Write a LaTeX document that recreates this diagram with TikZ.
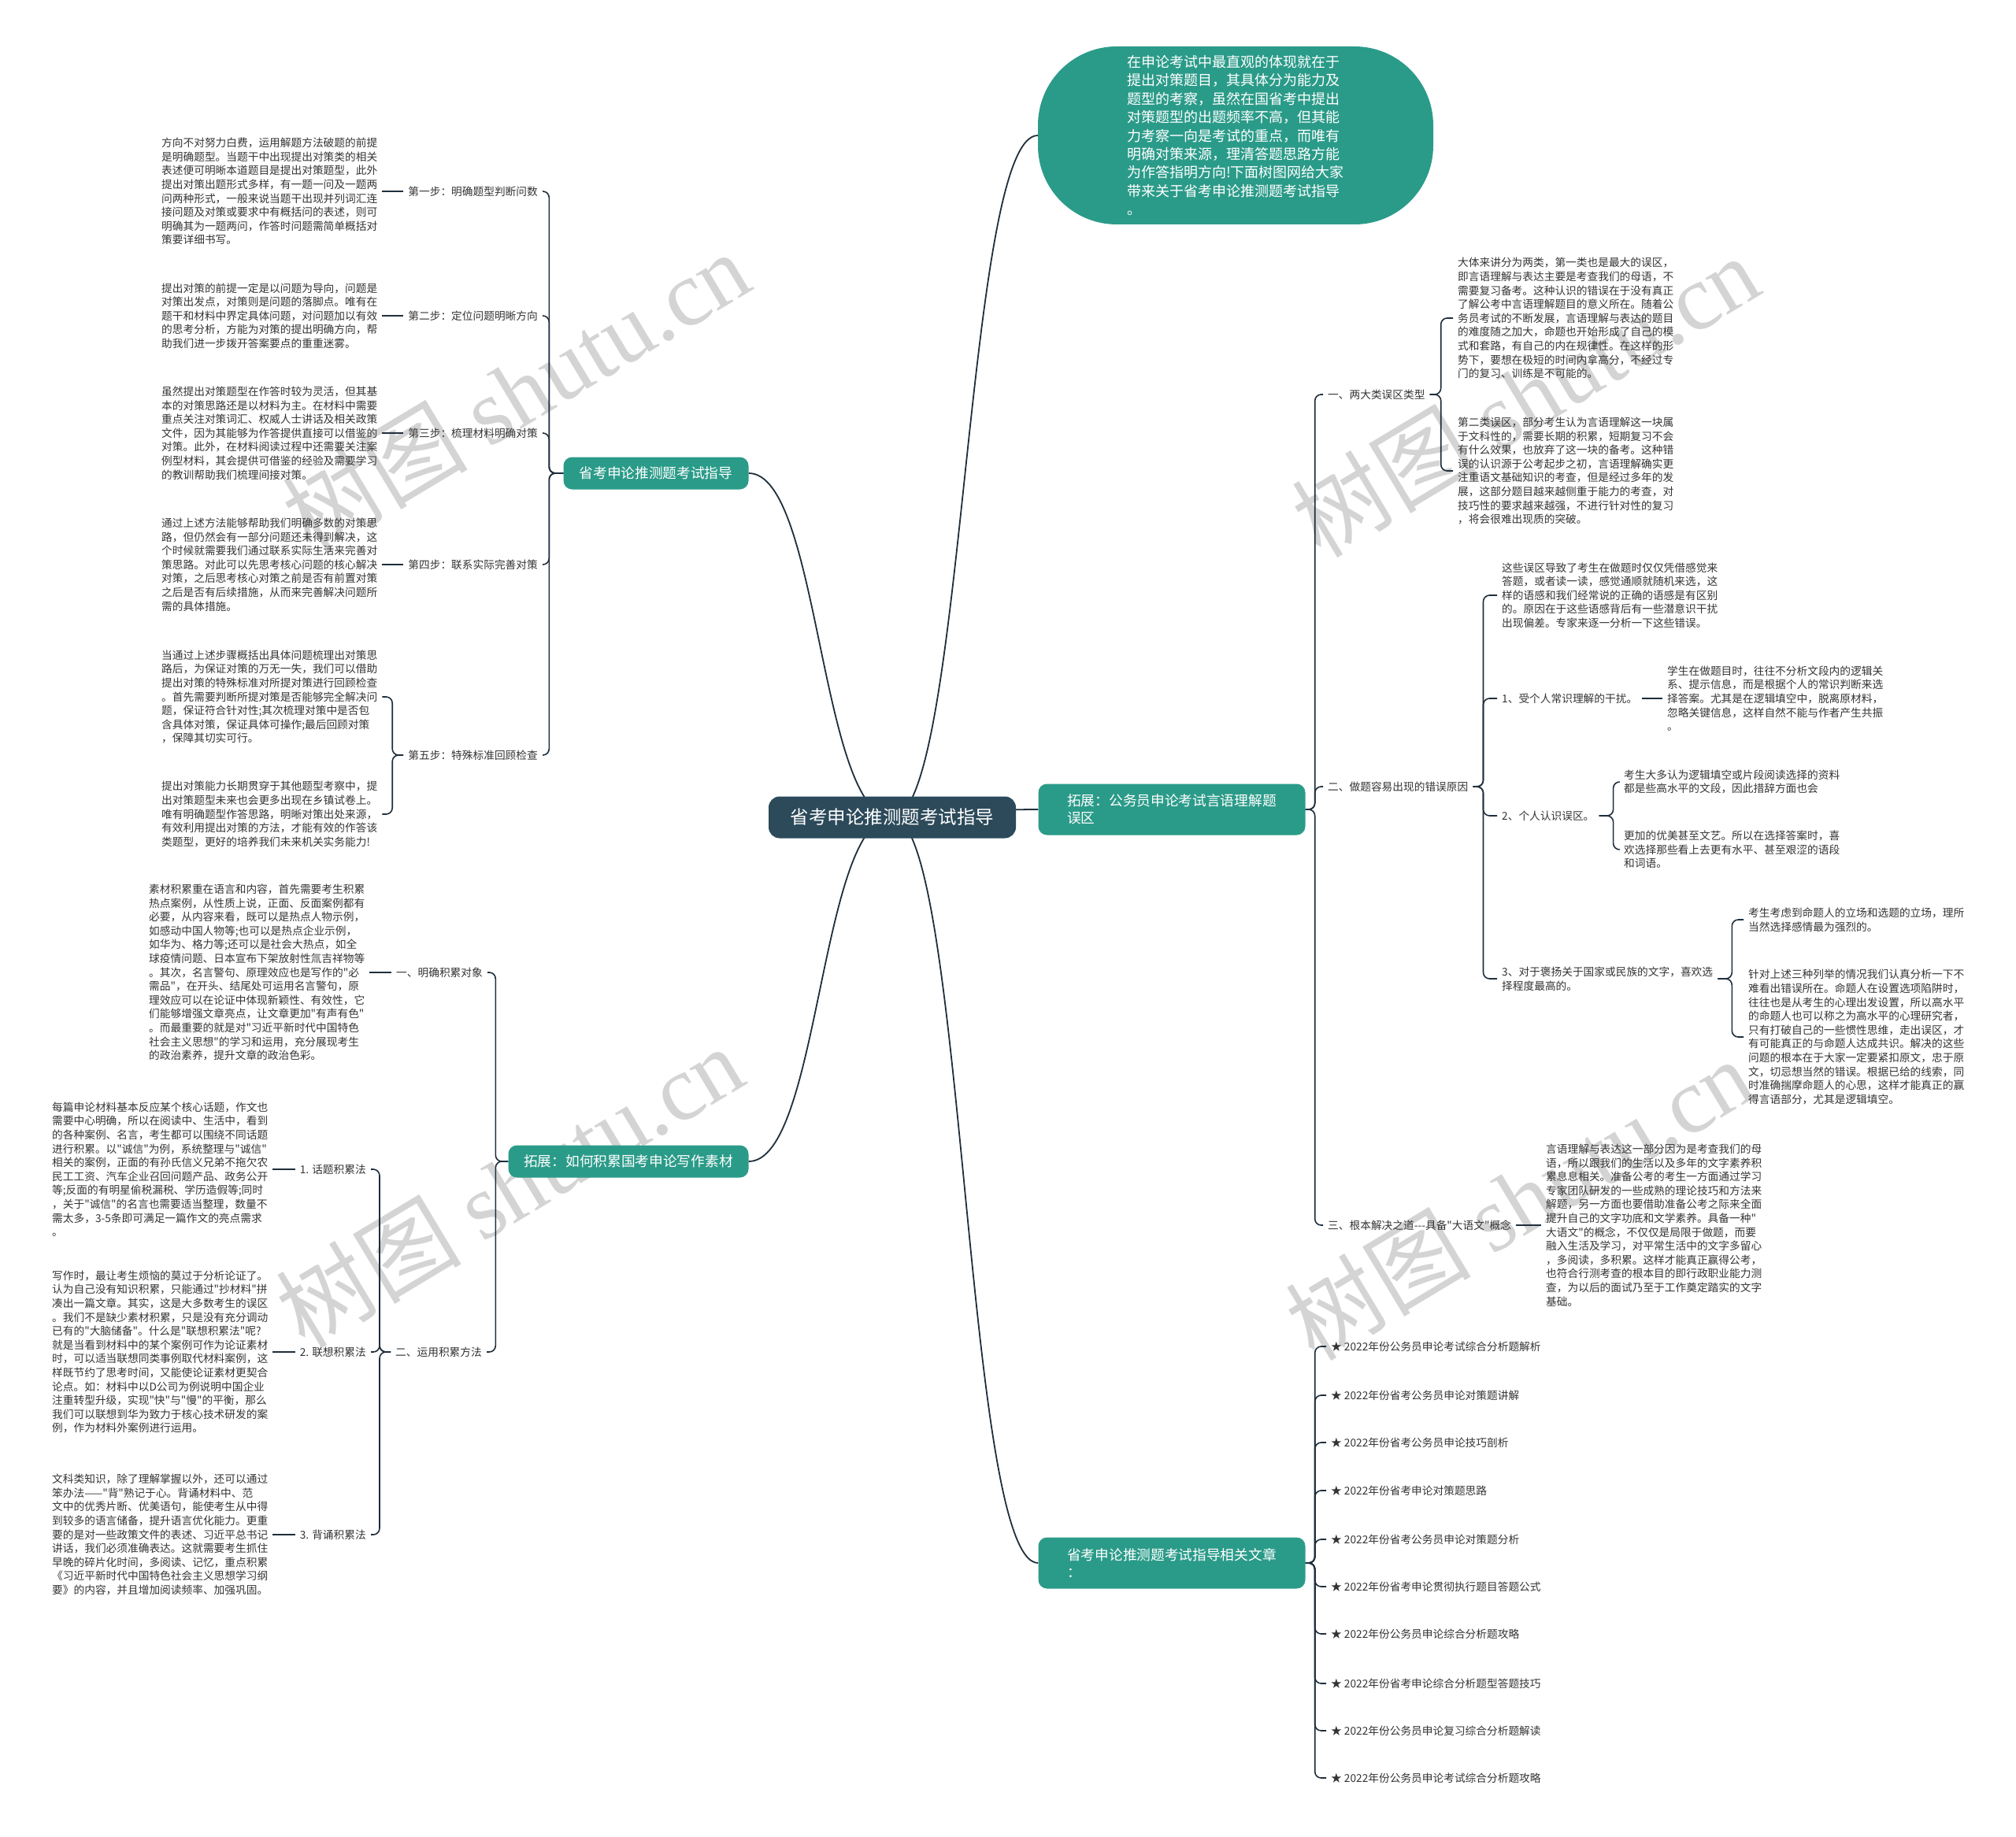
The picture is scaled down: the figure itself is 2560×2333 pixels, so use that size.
\documentclass[tikz,border=0pt]{standalone}
\usepackage{fontspec}
\setmainfont{Noto Sans CJK SC}[Ligatures=TeXOff]
\newfontfamily\wmlatin{Liberation Serif}
\usetikzlibrary{backgrounds}

\definecolor{rootfill}{HTML}{2C4A5A}
\definecolor{tealfill}{HTML}{2B9B89}
\definecolor{linkcol}{HTML}{1E2E3C}
\definecolor{leafcol}{HTML}{333333}
\definecolor{markcol}{HTML}{D4D4D4}

\newcommand\leaffont{\fontsize{13.7}{17.6}\selectfont}

\tikzset{
  link/.style={draw=linkcol, line width=1.6pt, rounded corners=8pt},
  trunk/.style={draw=linkcol, line width=1.8pt},
  rootbox/.style={fill=rootfill, text=white, rounded corners=14pt,
    minimum width=314pt, minimum height=53pt, font=\fontsize{23.5}{28}\selectfont},
  mainbox/.style={fill=tealfill, text=white, rounded corners=11pt,
    minimum height=41pt, inner xsep=18pt, font=\fontsize{17.7}{22}\selectfont},
  bubble/.style={fill=tealfill, text=white, rounded corners=100pt,
    minimum width=502pt, minimum height=226pt, align=left,
    font=\fontsize{18}{23.4}\selectfont},
  leaf/.style={text=leafcol, align=left, inner xsep=6pt, inner ysep=2pt, font=\leaffont},
  twig/.style={leaf},
  watermark/.style={text=markcol, rotate=31, font=\fontsize{118}{128}\selectfont}
}

\begin{document}
\begin{tikzpicture}[x=1pt, y=-1pt]

\useasboundingbox (0,0) rectangle (2560,2333);

% centre and main topics
\node[rootbox] (root) at (1133,1038) {省考申论推测题考试指导};

\node[bubble] (intro) at (1569,172) {在申论考试中最直观的体现就在于\\提出对策题目，其具体分为能力及\\题型的考察，虽然在国省考中提出\\对策题型的出题频率不高，但其能\\力考察一向是考试的重点，而唯有\\明确对策来源，理清答题思路方能\\为作答指明方向!下面树图网给大家\\带来关于省考申论推测题考试指导\\。};

\node[mainbox, minimum width=235pt] (guide) at (833,601) {省考申论推测题考试指导};
\node[mainbox, minimum width=305pt] (material) at (798,1475) {拓展：如何积累国考申论写作素材};
\node[mainbox, minimum width=339pt, minimum height=65pt, align=left] (verbal) at (1488,1028) {拓展：公务员申论考试言语理解题\\误区};
\node[mainbox, minimum width=339pt, minimum height=65pt, align=left] (related) at (1488,1985) {省考申论推测题考试指导相关文章\\：};

% five steps
\node[twig, anchor=east] (s1) at (689,243) {第一步：明确题型判断问数};
\node[twig, anchor=east] (s2) at (689,401) {第二步：定位问题明晰方向};
\node[twig, anchor=east] (s3) at (689,550) {第三步：梳理材料明确对策};
\node[twig, anchor=east] (s4) at (689,717) {第四步：联系实际完善对策};
\node[twig, anchor=east] (s5) at (689,959) {第五步：特殊标准回顾检查};

\node[leaf, anchor=west] (s1t) at (199,243) {方向不对努力白费，运用解题方法破题的前提\\是明确题型。当题干中出现提出对策类的相关\\表述便可明晰本道题目是提出对策题型，此外\\提出对策出题形式多样，有一题一问及一题两\\问两种形式，一般来说当题干出现并列词汇连\\接问题及对策或要求中有概括问的表述，则可\\明确其为一题两问，作答时问题需简单概括对\\策要详细书写。};
\node[leaf, anchor=west] (s2t) at (199,401) {提出对策的前提一定是以问题为导向，问题是\\对策出发点，对策则是问题的落脚点。唯有在\\题干和材料中界定具体问题，对问题加以有效\\的思考分析，方能为对策的提出明确方向，帮\\助我们进一步拨开答案要点的重重迷雾。};
\node[leaf, anchor=west] (s3t) at (199,550) {虽然提出对策题型在作答时较为灵活，但其基\\本的对策思路还是以材料为主。在材料中需要\\重点关注对策词汇、权威人士讲话及相关政策\\文件，因为其能够为作答提供直接可以借鉴的\\对策。此外，在材料阅读过程中还需要关注案\\例型材料，其会提供可借鉴的经验及需要学习\\的教训帮助我们梳理间接对策。};
\node[leaf, anchor=west] (s4t) at (199,717) {通过上述方法能够帮助我们明确多数的对策思\\路，但仍然会有一部分问题还未得到解决，这\\个时候就需要我们通过联系实际生活来完善对\\策思路。对此可以先思考核心问题的核心解决\\对策，之后思考核心对策之前是否有前置对策\\之后是否有后续措施，从而来完善解决问题所\\需的具体措施。};
\node[leaf, anchor=west] (s5a) at (199,885) {当通过上述步骤概括出具体问题梳理出对策思\\路后，为保证对策的万无一失，我们可以借助\\提出对策的特殊标准对所提对策进行回顾检查\\。首先需要判断所提对策是否能够完全解决问\\题，保证符合针对性;其次梳理对策中是否包\\含具体对策，保证具体可操作;最后回顾对策\\，保障其切实可行。};
\node[leaf, anchor=west] (s5b) at (199,1034) {提出对策能力长期贯穿于其他题型考察中，提\\出对策题型未来也会更多出现在乡镇试卷上。\\唯有明确题型作答思路，明晰对策出处来源，\\有效利用提出对策的方法，才能有效的作答该\\类题型，更好的培养我们未来机关实务能力!};

% writing material
\node[twig, anchor=east] (m1) at (619,1235) {一、明确积累对象};
\node[twig, anchor=east] (m2) at (618,1717) {二、运用积累方法};
\node[leaf, anchor=west] (m1t) at (183,1235) {素材积累重在语言和内容，首先需要考生积累\\热点案例，从性质上说，正面、反面案例都有\\必要，从内容来看，既可以是热点人物示例，\\如感动中国人物等;也可以是热点企业示例，\\如华为、格力等;还可以是社会大热点，如全\\球疫情问题、日本宣布下架放射性氚吉祥物等\\。其次，名言警句、原理效应也是写作的"必\\需品"，在开头、结尾处可运用名言警句，原\\理效应可以在论证中体现新颖性、有效性，它\\们能够增强文章亮点，让文章更加"有声有色"\\。而最重要的就是对"习近平新时代中国特色\\社会主义思想"的学习和运用，充分展现考生\\的政治素养，提升文章的政治色彩。};

\node[twig, anchor=east] (t1) at (471,1485) {1. 话题积累法};
\node[twig, anchor=east] (t2) at (471,1717) {2. 联想积累法};
\node[twig, anchor=east] (t3) at (471,1949) {3. 背诵积累法};
\node[leaf, anchor=west] (t1t) at (60,1485) {每篇申论材料基本反应某个核心话题，作文也\\需要中心明确，所以在阅读中、生活中，看到\\的各种案例、名言，考生都可以围绕不同话题\\进行积累。以"诚信"为例，系统整理与"诚信"\\相关的案例，正面的有孙氏信义兄弟不拖欠农\\民工工资、汽车企业召回问题产品、政务公开\\等;反面的有明星偷税漏税、学历造假等;同时\\，关于"诚信"的名言也需要适当整理，数量不\\需太多，3-5条即可满足一篇作文的亮点需求\\。};
\node[leaf, anchor=west] (t2t) at (60,1717) {写作时，最让考生烦恼的莫过于分析论证了。\\认为自己没有知识积累，只能通过"抄材料"拼\\凑出一篇文章。其实，这是大多数考生的误区\\。我们不是缺少素材积累，只是没有充分调动\\已有的"大脑储备"。什么是"联想积累法"呢?\\就是当看到材料中的某个案例可作为论证素材\\时，可以适当联想同类事例取代材料案例，这\\样既节约了思考时间，又能使论证素材更契合\\论点。如：材料中以D公司为例说明中国企业\\注重转型升级，实现"快"与"慢"的平衡，那么\\我们可以联想到华为致力于核心技术研发的案\\例，作为材料外案例进行运用。};
\node[leaf, anchor=west] (t3t) at (60,1949) {文科类知识，除了理解掌握以外，还可以通过\\笨办法——"背"熟记于心。背诵材料中、范\\文中的优秀片断、优美语句，能使考生从中得\\到较多的语言储备，提升语言优化能力。更重\\要的是对一些政策文件的表述、习近平总书记\\讲话，我们必须准确表达。这就需要考生抓住\\早晚的碎片化时间，多阅读、记忆，重点积累\\《习近平新时代中国特色社会主义思想学习纲\\要》的内容，并且增加阅读频率、加强巩固。};

% verbal comprehension
\node[twig, anchor=west] (r1) at (1680,501) {一、两大类误区类型};
\node[twig, anchor=west] (r2) at (1680,999) {二、做题容易出现的错误原因};
\node[twig, anchor=west] (r3) at (1680,1556) {三、根本解决之道---具备"大语文"概念};

\node[leaf, anchor=west] (r1a) at (1845,404) {大体来讲分为两类，第一类也是最大的误区，\\即言语理解与表达主要是考查我们的母语，不\\需要复习备考。这种认识的错误在于没有真正\\了解公考中言语理解题目的意义所在。随着公\\务员考试的不断发展，言语理解与表达的题目\\的难度随之加大，命题也开始形成了自己的模\\式和套路，有自己的内在规律性。在这样的形\\势下，要想在极短的时间内拿高分，不经过专\\门的复习、训练是不可能的。};
\node[leaf, anchor=west] (r1b) at (1845,598) {第二类误区，部分考生认为言语理解这一块属\\于文科性的，需要长期的积累，短期复习不会\\有什么效果，也放弃了这一块的备考。这种错\\误的认识源于公考起步之初，言语理解确实更\\注重语文基础知识的考查，但是经过多年的发\\展，这部分题目越来越侧重于能力的考查，对\\技巧性的要求越来越强，不进行针对性的复习\\，将会很难出现质的突破。};

\node[leaf, anchor=west] (r2i) at (1901,756) {这些误区导致了考生在做题时仅仅凭借感觉来\\答题，或者读一读，感觉通顺就随机来选，这\\样的语感和我们经常说的正确的语感是有区别\\的。原因在于这些语感背后有一些潜意识干扰\\出现偏差。专家来逐一分析一下这些错误。};
\node[twig, anchor=west] (r21) at (1901,887) {1、受个人常识理解的干扰。};
\node[twig, anchor=west] (r22) at (1901,1036) {2、个人认识误区。};
\node[twig, anchor=west] (r23) at (1901,1243) {3、对于褒扬关于国家或民族的文字，喜欢选\\择程度最高的。};

\node[leaf, anchor=west] (r21t) at (2111,887) {学生在做题目时，往往不分析文段内的逻辑关\\系、提示信息，而是根据个人的常识判断来选\\择答案。尤其是在逻辑填空中，脱离原材料，\\忽略关键信息，这样自然不能与作者产生共振\\。};
\node[leaf, anchor=west] (r22a) at (2056,993) {考生大多认为逻辑填空或片段阅读选择的资料\\都是些高水平的文段，因此措辞方面也会};
\node[leaf, anchor=west] (r22b) at (2056,1079) {更加的优美甚至文艺。所以在选择答案时，喜\\欢选择那些看上去更有水平、甚至艰涩的语段\\和词语。};
\node[leaf, anchor=west] (r23a) at (2214,1168) {考生考虑到命题人的立场和选题的立场，理所\\当然选择感情最为强烈的。};
\node[leaf, anchor=west] (r23b) at (2214,1317) {针对上述三种列举的情况我们认真分析一下不\\难看出错误所在。命题人在设置选项陷阱时，\\往往也是从考生的心理出发设置，所以高水平\\的命题人也可以称之为高水平的心理研究者，\\只有打破自己的一些惯性思维，走出误区，才\\有可能真正的与命题人达成共识。解决的这些\\问题的根本在于大家一定要紧扣原文，忠于原\\文，切忌想当然的错误。根据已给的线索，同\\时准确揣摩命题人的心思，这样才能真正的赢\\得言语部分，尤其是逻辑填空。};

\node[leaf, anchor=west] (r3t) at (1957,1556) {言语理解与表达这一部分因为是考查我们的母\\语，所以跟我们的生活以及多年的文字素养积\\累息息相关。准备公考的考生一方面通过学习\\专家团队研发的一些成熟的理论技巧和方法来\\解题，另一方面也要借助准备公考之际来全面\\提升自己的文字功底和文学素养。具备一种"\\大语文"的概念，不仅仅是局限于做题，而要\\融入生活及学习，对平常生活中的文字多留心\\，多阅读，多积累。这样才能真正赢得公考，\\也符合行测考查的根本目的即行政职业能力测\\查，为以后的面试乃至于工作奠定踏实的文字\\基础。};

% related articles
\node[leaf, anchor=west] (rel1) at (1684,1710) {★ 2022年份公务员申论考试综合分析题解析};
\node[leaf, anchor=west] (rel2) at (1684,1772) {★ 2022年份省考公务员申论对策题讲解};
\node[leaf, anchor=west] (rel3) at (1684,1832) {★ 2022年份省考公务员申论技巧剖析};
\node[leaf, anchor=west] (rel4) at (1684,1893) {★ 2022年份省考申论对策题思路};
\node[leaf, anchor=west] (rel5) at (1684,1955) {★ 2022年份省考公务员申论对策题分析};
\node[leaf, anchor=west] (rel6) at (1684,2015) {★ 2022年份省考申论贯彻执行题目答题公式};
\node[leaf, anchor=west] (rel7) at (1684,2075) {★ 2022年份公务员申论综合分析题攻略};
\node[leaf, anchor=west] (rel8) at (1684,2138) {★ 2022年份省考申论综合分析题型答题技巧};
\node[leaf, anchor=west] (rel9) at (1684,2198) {★ 2022年份公务员申论复习综合分析题解读};
\node[leaf, anchor=west] (rel10) at (1684,2258) {★ 2022年份公务员申论考试综合分析题攻略};

\begin{pgfonlayer}{background}
% watermarks
\node[watermark] (wm1) at (655,497) {树图 {\wmlatin shutu.cn}};
\node[watermark] (wm2) at (1937,502) {树图 {\wmlatin shutu.cn}};
\node[watermark] (wm3) at (647,1506) {树图 {\wmlatin shutu.cn}};
\node[watermark] (wm4) at (1929,1522) {树图 {\wmlatin shutu.cn}};

\draw[trunk] (root.center) .. controls (1225,1038) and (1225,172) .. (intro.west);
\draw[trunk] (root.center) .. controls (1041,1038) and (1041,601) .. (guide.east);
\draw[trunk] (root.center) .. controls (1041,1038) and (1041,1475) .. (material.east);
\draw[trunk] (root.center) .. controls (1225,1038) and (1225,1028) .. (verbal.west);
\draw[trunk] (root.center) .. controls (1225,1038) and (1225,1985) .. (related.west);

\draw[link] (guide.west) -- ++(-18,0) |- (s1.east);
\draw[link] (guide.west) -- ++(-18,0) |- (s2.east);
\draw[link] (guide.west) -- ++(-18,0) |- (s3.east);
\draw[link] (guide.west) -- ++(-18,0) |- (s4.east);
\draw[link] (guide.west) -- ++(-18,0) |- (s5.east);
\draw[link] (s1.west) -- (s1t.east);
\draw[link] (s2.west) -- (s2t.east);
\draw[link] (s3.west) -- (s3t.east);
\draw[link] (s4.west) -- (s4t.east);
\draw[link] (s5.west) -- ++(-14,0) |- (s5a.east);
\draw[link] (s5.west) -- ++(-14,0) |- (s5b.east);

\draw[link] (material.west) -- ++(-16,0) |- (m1.east);
\draw[link] (material.west) -- ++(-16,0) |- (m2.east);
\draw[link] (m1.west) -- (m1t.east);
\draw[link] (m2.west) -- ++(-14,0) |- (t1.east);
\draw[link] (m2.west) -- ++(-14,0) |- (t2.east);
\draw[link] (m2.west) -- ++(-14,0) |- (t3.east);
\draw[link] (t1.west) -- (t1t.east);
\draw[link] (t2.west) -- (t2t.east);
\draw[link] (t3.west) -- (t3t.east);

\draw[link] (verbal.east) -- ++(12,0) |- (r1.west);
\draw[link] (verbal.east) -- ++(12,0) |- (r2.west);
\draw[link] (verbal.east) -- ++(12,0) |- (r3.west);
\draw[link] (r1.east) -- ++(14,0) |- (r1a.west);
\draw[link] (r1.east) -- ++(14,0) |- (r1b.west);
\draw[link] (r2.east) -- ++(13,0) |- (r2i.west);
\draw[link] (r2.east) -- ++(13,0) |- (r21.west);
\draw[link] (r2.east) -- ++(13,0) |- (r22.west);
\draw[link] (r2.east) -- ++(13,0) |- (r23.west);
\draw[link] (r21.east) -- (r21t.west);
\draw[link] (r22.east) -- ++(18,0) |- (r22a.west);
\draw[link] (r22.east) -- ++(18,0) |- (r22b.west);
\draw[link] (r23.east) -- ++(18,0) |- (r23a.west);
\draw[link] (r23.east) -- ++(18,0) |- (r23b.west);
\draw[link] (r3.east) -- (r3t.west);

\draw[link] (related.east) -- ++(12,0) |- (rel1.west);
\draw[link] (related.east) -- ++(12,0) |- (rel2.west);
\draw[link] (related.east) -- ++(12,0) |- (rel3.west);
\draw[link] (related.east) -- ++(12,0) |- (rel4.west);
\draw[link] (related.east) -- ++(12,0) |- (rel5.west);
\draw[link] (related.east) -- ++(12,0) |- (rel6.west);
\draw[link] (related.east) -- ++(12,0) |- (rel7.west);
\draw[link] (related.east) -- ++(12,0) |- (rel8.west);
\draw[link] (related.east) -- ++(12,0) |- (rel9.west);
\draw[link] (related.east) -- ++(12,0) |- (rel10.west);
\end{pgfonlayer}

\end{tikzpicture}
\end{document}
